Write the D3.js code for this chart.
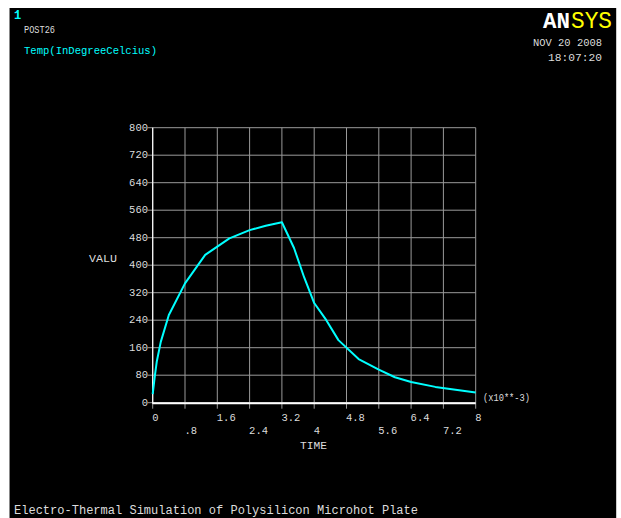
<!DOCTYPE html>
<html>
<head>
<meta charset="utf-8">
<script src="https://cdn.jsdelivr.net/npm/d3@7"></script>
<style>
  html, body { margin: 0; padding: 0; background: #fff; }
  svg { display: block; }
  text { font-family: 'Liberation Mono', 'DejaVu Sans Mono', monospace; }
</style>
</head>
<body>
<div id="chart"></div>
<script>
'use strict'

// time in ms (x10**-3 s), temperature in degree celcius
const time = [0, 0.05, 0.1, 0.2, 0.4, 0.8, 1.3, 1.9, 2.4, 2.8, 3.2,
    3.5, 3.75, 4.0, 4.3, 4.6, 5.1, 5.6, 6.0, 6.4, 7.0, 7.5, 8.0]
const temp = [25, 75, 119, 177, 255, 347, 430, 478, 502, 515, 525,
    450, 365, 290, 240, 182, 127, 96, 74, 60, 46, 38, 30]

const xTicks = [0, 0.8, 1.6, 2.4, 3.2, 4, 4.8, 5.6, 6.4, 7.2, 8]
const xTickLabels = ['0', '.8', '1.6', '2.4', '3.2', '4', '4.8', '5.6', '6.4', '7.2', '8']
const yTicks = [0, 80, 160, 240, 320, 400, 480, 560, 640, 720, 800]

const width = 621,
    height = 518

const svg = d3.select('#chart')
    .append('svg')
    .attr('width', width)
    .attr('height', height)

// black graphics window
svg.append('rect')
    .attr('x', 10).attr('y', 8)
    .attr('width', 606).attr('height', 510)
    .attr('fill', '#000')
svg.append('line')
    .attr('x1', 9.5).attr('x2', 9.5).attr('y1', 8).attr('y2', height)
    .attr('stroke', '#888')
svg.append('line')
    .attr('x1', 616.5).attr('x2', 616.5).attr('y1', 8).attr('y2', height)
    .attr('stroke', '#ccc')

const x = d3.scaleLinear().domain([0, 8]).range([152.7, 475.7])
const y = d3.scaleLinear().domain([0, 800]).range([402.7, 127.7])

// grid
svg.append('g').selectAll('line')
    .data(yTicks)
    .enter().append('line')
    .attr('x1', x(0) - 5).attr('x2', x(8))
    .attr('y1', d => y(d)).attr('y2', d => y(d))
    .attr('stroke', '#9a9a9a')
    .attr('stroke-width', 1)

svg.append('g').selectAll('line')
    .data(xTicks)
    .enter().append('line')
    .attr('x1', d => x(d)).attr('x2', d => x(d))
    .attr('y1', y(800)).attr('y2', y(0) + 6)
    .attr('stroke', '#9a9a9a')
    .attr('stroke-width', 1)

// axes
svg.append('line')
    .attr('x1', x(0)).attr('x2', x(0))
    .attr('y1', y(800)).attr('y2', y(0) + 1)
    .attr('stroke', '#fff').attr('stroke-width', 1.2)
svg.append('line')
    .attr('x1', x(0)).attr('x2', x(8))
    .attr('y1', y(0) + 0.5).attr('y2', y(0) + 0.5)
    .attr('stroke', '#fff').attr('stroke-width', 2)

// tick labels
svg.append('g').selectAll('text')
    .data(yTicks)
    .enter().append('text')
    .attr('x', 148)
    .attr('y', d => y(d) + 3)
    .attr('text-anchor', 'end')
    .attr('font-size', 10.5)
    .attr('fill', '#ddd')
    .text(d => d)

svg.append('g').selectAll('text')
    .data(xTicks)
    .enter().append('text')
    .attr('x', d => x(d) - 0.5)
    .attr('y', (d, i) => i % 2 === 0 ? 421 : 434)
    .attr('font-size', 10.5)
    .attr('fill', '#ddd')
    .text((d, i) => xTickLabels[i])

// curve
const line = d3.line()
    .x(d => x(d[0]))
    .y(d => y(d[1]))

svg.append('path')
    .datum(time.map((t, i) => [t, temp[i]]))
    .attr('d', line)
    .attr('fill', 'none')
    .attr('stroke', '#00ffff')
    .attr('stroke-width', 2)
    .attr('stroke-linejoin', 'round')

// labels
const label = (txt, tx, ty, size, color, len) => {
    const t = svg.append('text')
        .attr('x', tx).attr('y', ty)
        .attr('font-size', size)
        .attr('fill', color)
        .text(txt)
    if (len) t.attr('textLength', len).attr('lengthAdjust', 'spacingAndGlyphs')
    return t
}

label('VALU', 89, 262, 11.5, '#ddd', 28)
label('TIME', 300, 449, 11.5, '#ddd', 27)
label('(x10**-3)', 483, 401, 10.5, '#ddd', 47)

label('1', 14, 19, 12, '#00ffff').attr('font-weight', 'bold')
label('POST26', 24, 33, 11, '#ddd', 31)
label('Temp(InDegreeCelcius)', 24, 54, 10.5, '#00ffff', 133)
label('NOV 20 2008', 533, 46, 11, '#ddd', 69)
label('18:07:20', 548, 61, 11, '#ddd', 54)
label('Electro-Thermal Simulation of Polysilicon Microhot Plate', 14, 514, 12, '#ddd', 404)

// logo
label('AN', 543, 28, 22, '#fff', 27)
    .attr('font-family', "'Liberation Sans', Arial, sans-serif")
    .attr('font-weight', 'bold')
label('SYS', 571, 28, 23, '#ffff00', 41)
    .attr('font-family', "'Liberation Serif', 'Times New Roman', serif")
</script>
</body>
</html>
